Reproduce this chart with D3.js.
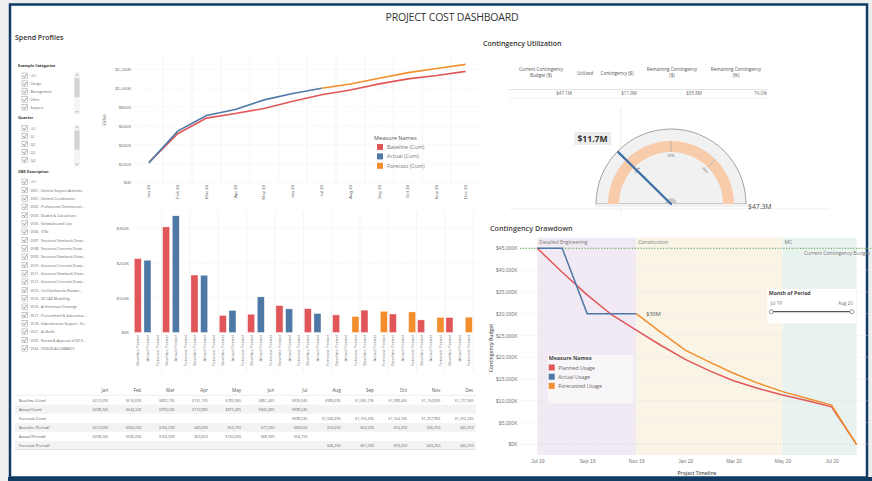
<!DOCTYPE html>
<html>
<head>
<meta charset="utf-8">
<script src="https://cdn.jsdelivr.net/npm/d3@7"></script>
<style>
  body { margin: 0; background: #fff; }
  svg { display: block; font-family: "Open Sans", sans-serif; }
</style>
</head>
<body>
<svg id="dash" width="872" height="481"></svg>
<script>
var svg = d3.select('#dash');

// ---------- data ----------
var months = ['Jan','Feb','Mar','Apr','May','Jun','Jul','Aug','Sep','Oct','Nov','Dec'];
var monthTicks = ['Jan 19','Feb 19','Mar 19','Apr 19','May 19','Jun 19','Jul 19','Aug 19','Sep 19','Oct 19','Nov 19','Dec 19'];

var baselineCum = [212695, 516695, 682195, 731195, 783945, 861445, 930045, 980695, 1045195, 1098445, 1134695, 1177945];
var actualCum = [208245, 544245, 709245, 772895, 875495, 943495, 998245, null, null, null, null, null];
var forecastCum = [null, null, null, null, null, null, 998245, 1044495, 1105495, 1164745, 1207995, 1252245];

var baselinePeriod = [212695, 304000, 165500, 49000, 52750, 77500, 68600, 50650, 64500, 53250, 36250, 43250];
var actualPeriod = [208245, 336000, 165000, 63650, 102600, 68000, 54750, null, null, null, null, null];
var forecastPeriod = [null, null, null, null, null, null, null, 46250, 61000, 59250, 43250, 44250];

var exampleCategories = ['(All)', 'Design', 'Management', 'Other', 'Support'];
var quarters = ['(All)', 'Q1', 'Q2', 'Q3', 'Q4'];
var obsItems = ['(All)', '0001 - General Support Activities', '0501 - General Coordination',
  '0502 - Professional Dimensional...', '0503 - Studies & Calculations', '0505 - Schedules and Lists',
  '0506 - VTSs', '0507 - Structural Steelwork Draw...', '0508 - Structural Concrete Drawi...',
  '0509 - Structural Steelwork Draw...', '0510 - Structural Concrete Drawi...', '0511 - Structural Steelwork Draw...',
  '0512 - Structural Concrete Drawi...', '0513 - Civil Earthworks Roadan...', '0514 - 3D CAD Modelling',
  '0516 - Architectural Drawings', '0517 - Procurement & Subcontrac...', '0518 - Subcontractor Support - Fa...',
  '0521 - As Builts', '0525 - Review & Approval of 3D S...', '0554 - DESIGN ALLOWANCE'];

var contHeaders = [['Current Contingency', 'Budget ($)'], ['Utilized'], ['Contingency ($)'],
  ['Remaining Contingency', '($)'], ['Remaining Contingency', '(%)']];
var contValues = ['$47.1M', '', '$11.9M', '$35.8M', '76.0%'];

var gaugeBudget = 47.3;   // $M
var gaugeUsed = 11.7;     // $M
var gaugeTicks = [0.25, 0.5, 0.75];

var drawMonths = ['2019-07','2019-08','2019-09','2019-10','2019-11','2019-12','2020-01',
  '2020-02','2020-03','2020-04','2020-05','2020-06','2020-07','2020-08'];
var plannedUsage = [45000, 39500, 34300, 29800, 26200, 22800, 19500, 16800, 14600, 12800, 11300, 10000, 8600, 0];
var actualUsage = [45000, 45000, 30000, 30000, 30000, null, null, null, null, null, null, null, null, null];
var forecastUsage = [null, null, null, null, 30000, 25800, 21600, 18800, 16300, 14000, 12100, 10500, 9000, 0];
var phases = [
  {name: 'Detailed Engineering', start: '2019-07', end: '2019-11', color: '#f1e9f3'},
  {name: 'Construction', start: '2019-11', end: '2020-05', color: '#faf4e7'},
  {name: 'MC', start: '2020-05', end: '2020-08', color: '#e8f2ef'}
];
var contingencyBudget = 45000;

var red = '#e15759', blue = '#4e79a7', orange = '#f28e2b';
var kFmt = function(d) { return '$' + d3.format(',')(d / 1000) + 'K'; };
var dollar = d3.format('$,');

// ---------- frame ----------
svg.append('rect').attr('width', 872).attr('height', 481).attr('fill', '#eceeef');
svg.append('rect')
    .attr('x', 10).attr('y', 4.5).attr('width', 857).attr('height', 473)
    .attr('fill', '#fff').attr('stroke', '#113b63').attr('stroke-width', 2.5);
svg.append('rect').attr('x', 8).attr('y', 477).attr('width', 864).attr('height', 4).attr('fill', '#113b63');

svg.append('text').attr('x', 452).attr('y', 21).attr('text-anchor', 'middle')
    .attr('font-size', 10.5).attr('fill', '#333').attr('letter-spacing', -0.2)
    .text('PROJECT COST DASHBOARD');
svg.append('text').attr('x', 15).attr('y', 40).attr('font-size', 7).attr('font-weight', 600)
    .attr('fill', '#333').text('Spend Profiles');
svg.append('text').attr('x', 483).attr('y', 46).attr('font-size', 7).attr('font-weight', 600)
    .attr('fill', '#333').text('Contingency Utilization');

// ---------- filter lists ----------
function checkList(title, items, y0, step, scroll) {
    var g = svg.append('g');
    g.append('text').attr('x', 18).attr('y', y0).attr('font-size', 3.8).attr('font-weight', 700)
        .attr('fill', '#333').text(title);
    var it = g.selectAll('g.item').data(items).enter().append('g')
        .attr('transform', function(d, i) { return 'translate(22,' + (y0 + 9.5 + i * step) + ')'; });
    it.append('rect').attr('x', 0).attr('y', -3).attr('width', 5.5).attr('height', 5.5)
        .attr('fill', '#fff').attr('stroke', '#999').attr('stroke-width', 0.5);
    it.append('path').attr('d', 'M1.2,-0.3 L2.5,1.4 L4.6,-2').attr('fill', 'none')
        .attr('stroke', '#555').attr('stroke-width', 0.6);
    it.append('text').attr('x', 8.5).attr('y', 1.4).attr('font-size', 3.4)
        .attr('fill', function(d, i) { return i === 0 ? '#aaa' : '#666'; }).text(function(d) { return d; });
    if (scroll) {
        var sy = y0 + 5.5, sh = items.length * step + 3;
        g.append('rect').attr('x', 74).attr('y', sy).attr('width', 6).attr('height', sh).attr('fill', '#f4f4f4');
        g.append('rect').attr('x', 74.5).attr('y', sy + 6).attr('width', 5).attr('height', sh * 0.45).attr('fill', '#d4d4d4');
        g.append('path').attr('d', 'M75.5,' + (sy + 3.5) + ' l1.5,-1.5 l1.5,1.5').attr('fill', 'none').attr('stroke', '#666').attr('stroke-width', 0.5);
        g.append('path').attr('d', 'M75.5,' + (sy + sh - 3.5) + ' l1.5,1.5 l1.5,-1.5').attr('fill', 'none').attr('stroke', '#666').attr('stroke-width', 0.5);
    }
}
checkList('Example Categories', exampleCategories, 66.5, 7.9, true);
checkList('Quarter', quarters, 119, 7.9, true);
checkList('OBS Description', obsItems, 172.5, 8.33, false);

// ---------- cumulative line chart ----------
var lx = d3.scaleBand().domain(monthTicks).range([134.5, 480]);
var ly = d3.scaleLinear().domain([0, 1330000]).range([182.5, 57]);
var lineG = svg.append('g');

lineG.selectAll('line.vg').data(d3.range(1, 12)).enter().append('line')
    .attr('x1', function(i) { return 134.5 + i * lx.step(); })
    .attr('x2', function(i) { return 134.5 + i * lx.step(); })
    .attr('y1', 57).attr('y2', 183).attr('stroke', '#ededed').attr('stroke-width', 0.6);
lineG.selectAll('line.hg').data(d3.range(0, 1200001, 200000)).enter().append('line')
    .attr('x1', 134.5).attr('x2', 480).attr('y1', ly).attr('y2', ly)
    .attr('stroke', '#ececec').attr('stroke-width', 0.6).attr('stroke-dasharray', '1.5,0.8');

var lyAxis = lineG.append('g').attr('transform', 'translate(134.5,0)')
    .call(d3.axisLeft(ly).tickValues(d3.range(0, 1200001, 200000)).tickFormat(kFmt).tickSize(0).tickPadding(3));
lyAxis.select('.domain').remove();
lyAxis.selectAll('text').attr('font-size', 4.4).attr('fill', '#777');

var lxAxis = lineG.append('g').attr('transform', 'translate(0,183)')
    .call(d3.axisBottom(lx).tickSize(0));
lxAxis.select('.domain').remove();
lxAxis.selectAll('text').attr('font-size', 4.4).attr('fill', '#666')
    .attr('transform', 'rotate(-90)').attr('text-anchor', 'end')
    .attr('x', -2).attr('y', 0).attr('dy', '0.32em');

lineG.append('text').attr('transform', 'translate(106,120) rotate(-90)').attr('text-anchor', 'middle')
    .attr('font-size', 4.4).attr('fill', '#666').text('Value');

var cumLine = d3.line()
    .defined(function(d) { return d != null; })
    .x(function(d, i) { return lx(monthTicks[i]) + lx.bandwidth() / 2; })
    .y(function(d) { return ly(d); });
[[baselineCum, red], [forecastCum, orange], [actualCum, blue]].forEach(function(s) {
    lineG.append('path').datum(s[0]).attr('d', cumLine)
        .attr('fill', 'none').attr('stroke', s[1]).attr('stroke-width', 1.6);
});

var lLegend = lineG.append('g').attr('transform', 'translate(374,140)');
lLegend.append('text').attr('x', 0).attr('y', 0).attr('font-size', 5.6).attr('fill', '#555').text('Measure Names');
lLegend.selectAll('g').data([['Baseline (Cum)', red], ['Actual (Cum)', blue], ['Forecast (Cum)', orange]])
    .enter().append('g')
    .attr('transform', function(d, i) { return 'translate(3,' + (4 + i * 9.4) + ')'; })
    .each(function(d) {
        d3.select(this).append('rect').attr('width', 6).attr('height', 6).attr('fill', d[1]);
        d3.select(this).append('text').attr('x', 10).attr('y', 4.8).attr('font-size', 5.4)
            .attr('fill', '#777').text(d[0]);
    });

// ---------- period bar chart ----------
var barKeys = ['Baseline Period', 'Actual Period', 'Forecast Period'];
var periodSeries = [baselinePeriod, actualPeriod, forecastPeriod];
var barColors = [red, blue, orange];
var bx0 = d3.scaleBand().domain(months).range([133.3, 473.3]);
var bx1 = d3.scaleBand().domain(barKeys).range([0, bx0.bandwidth()]).paddingInner(0.27).paddingOuter(0.1);
var by = d3.scaleLinear().domain([0, 347000]).range([332.5, 212]);
var barG = svg.append('g');

barG.selectAll('line.vg').data(d3.range(1, 13)).enter().append('line')
    .attr('x1', function(i) { return 133.3 + i * bx0.step(); })
    .attr('x2', function(i) { return 133.3 + i * bx0.step(); })
    .attr('y1', 211).attr('y2', 372).attr('stroke', '#ededed').attr('stroke-width', 0.6);
barG.selectAll('line.hg').data([100000, 200000, 300000]).enter().append('line')
    .attr('x1', 133.3).attr('x2', 478).attr('y1', by).attr('y2', by)
    .attr('stroke', '#ececec').attr('stroke-width', 0.6).attr('stroke-dasharray', '1.5,0.8');

var byAxis = barG.append('g').attr('transform', 'translate(133.3,0)')
    .call(d3.axisLeft(by).tickValues([0, 100000, 200000, 300000]).tickFormat(kFmt).tickSize(0).tickPadding(4));
byAxis.select('.domain').remove();
byAxis.selectAll('text').attr('font-size', 4.4).attr('fill', '#777');

var monthG = barG.selectAll('g.month').data(months).enter().append('g')
    .attr('transform', function(m) { return 'translate(' + bx0(m) + ',0)'; });
monthG.each(function(m, mi) {
    var g = d3.select(this);
    barKeys.forEach(function(k, ki) {
        var v = periodSeries[ki][mi];
        if (v != null) {
            g.append('rect').attr('x', bx1(k)).attr('width', bx1.bandwidth())
                .attr('y', by(v)).attr('height', by(0) - by(v))
                .attr('fill', barColors[ki]).attr('stroke', '#fff').attr('stroke-width', 0.4);
        }
        g.append('text')
            .attr('transform', 'translate(' + (bx1(k) + bx1.bandwidth() / 2) + ',335) rotate(-90)')
            .attr('text-anchor', 'end').attr('dy', '0.32em')
            .attr('font-size', 4.3).attr('fill', '#777').text(k);
    });
});

// ---------- monthly table ----------
var tableRows = [['Baseline (Cum)', baselineCum], ['Actual (Cum)', actualCum], ['Forecast (Cum)', forecastCum],
    ['Baseline (Period)', baselinePeriod], ['Actual (Period)', actualPeriod], ['Forecast (Period)', forecastPeriod]];
var tx = d3.scaleBand().domain(months).range([75, 473.5]);
var tableG = svg.append('g');
tableG.selectAll('text.hd').data(months).enter().append('text')
    .attr('x', function(m) { return tx(m) + tx.bandwidth(); }).attr('y', 392)
    .attr('text-anchor', 'end').attr('font-size', 4.6).attr('fill', '#555').text(function(m) { return m; });
tableG.append('line').attr('x1', 15).attr('x2', 476).attr('y1', 395.3).attr('y2', 395.3)
    .attr('stroke', '#d8d8d8').attr('stroke-width', 0.6);
var rowG = tableG.selectAll('g.row').data(tableRows).enter().append('g')
    .attr('transform', function(d, i) { return 'translate(0,' + (400.2 + i * 9.05) + ')'; });
rowG.append('rect').attr('x', 15).attr('y', -4.5).attr('width', 461).attr('height', 9.05)
    .attr('fill', function(d, i) { return i % 2 ? '#f3f3f3' : '#fff'; });
rowG.append('text').attr('x', 19).attr('y', 1.4).attr('font-size', 3.9).attr('fill', '#555')
    .text(function(d) { return d[0]; });
rowG.each(function(d) {
    d3.select(this).selectAll('text.v').data(d[1]).enter().append('text')
        .attr('x', function(v, i) { return tx(months[i]) + tx.bandwidth(); }).attr('y', 1.4)
        .attr('text-anchor', 'end').attr('font-size', 3.7).attr('fill', '#666')
        .text(function(v) { return v == null ? '' : dollar(v); });
});
tableG.append('line').attr('x1', 15).attr('x2', 476).attr('y1', 449.5).attr('y2', 449.5)
    .attr('stroke', '#d8d8d8').attr('stroke-width', 0.6);

// ---------- contingency summary ----------
var contHeadX = [541, 585, 617, 672, 736];
var contValX = [572, 0, 637, 702, 767];
var contG = svg.append('g');
contHeaders.forEach(function(h, i) {
    var t = contG.append('text').attr('x', contHeadX[i]).attr('text-anchor', 'middle')
        .attr('font-size', 4.6).attr('fill', '#555');
    h.forEach(function(line, j) {
        t.append('tspan').attr('x', contHeadX[i])
            .attr('y', h.length === 1 ? 74.5 : 71 + j * 6).text(line);
    });
    if (contValues[i]) {
        contG.append('text').attr('x', contValX[i]).attr('y', 95.2).attr('text-anchor', 'end')
            .attr('font-size', 4.6).attr('fill', '#666').text(contValues[i]);
    }
});
contG.append('line').attr('x1', 509).attr('x2', 769).attr('y1', 89.5).attr('y2', 89.5)
    .attr('stroke', '#d0d0d0').attr('stroke-width', 0.6);
contG.append('line').attr('x1', 509).attr('x2', 769).attr('y1', 98.3).attr('y2', 98.3)
    .attr('stroke', '#e2e2e2').attr('stroke-width', 0.6);

// ---------- gauge ----------
var gcx = 671, gcy = 204, gR = 75;
var gAngle = d3.scaleLinear().domain([0, gaugeBudget]).range([-Math.PI / 2, Math.PI / 2]);
var gaugeG = svg.append('g');
gaugeG.append('line').attr('x1', 510).attr('x2', 830).attr('y1', 209).attr('y2', 209)
    .attr('stroke', '#e6e6e6').attr('stroke-width', 0.6);
gaugeG.append('line').attr('x1', 620.7).attr('x2', 620.7).attr('y1', 107).attr('y2', 213)
    .attr('stroke', '#dcdcdc').attr('stroke-width', 0.5);
var gArc = d3.arc().startAngle(-Math.PI / 2).endAngle(Math.PI / 2);
gaugeG.append('path').attr('transform', 'translate(' + gcx + ',' + gcy + ')')
    .attr('d', gArc({innerRadius: 0, outerRadius: gR}))
    .attr('fill', '#f1f1f1').attr('stroke', '#8c8c8c').attr('stroke-width', 0.8);
gaugeG.append('path').attr('transform', 'translate(' + gcx + ',' + gcy + ')')
    .attr('d', gArc({innerRadius: 52, outerRadius: 63}))
    .attr('fill', '#f8cbaa');
gaugeG.append('rect').attr('x', gcx - gR - 1).attr('y', gcy).attr('width', 2 * gR + 2).attr('height', 3)
    .attr('fill', '#f1f1f1');
gaugeTicks.forEach(function(f) {
    var a = gAngle(f * gaugeBudget);
    gaugeG.append('line')
        .attr('x1', gcx + 52 * Math.sin(a)).attr('y1', gcy - 52 * Math.cos(a))
        .attr('x2', gcx + 63 * Math.sin(a)).attr('y2', gcy - 63 * Math.cos(a))
        .attr('stroke', '#a8a8a8').attr('stroke-width', 0.7);
    gaugeG.append('text')
        .attr('transform', 'translate(' + (gcx + 48 * Math.sin(a)) + ',' + (gcy - 48 * Math.cos(a)) + ') rotate(' + (a * 180 / Math.PI) + ')')
        .attr('text-anchor', 'middle').attr('dy', '0.35em').attr('font-size', 3.6).attr('fill', '#666')
        .text(d3.format('.0%')(f));
});
gaugeG.append('path').attr('transform', 'translate(' + gcx + ',' + gcy + ')')
    .attr('d', gArc({innerRadius: 0, outerRadius: 6})).attr('fill', '#c9c9c9');
var na = gAngle(gaugeUsed);
gaugeG.append('line').attr('x1', gcx).attr('y1', gcy)
    .attr('x2', gcx + 74 * Math.sin(na)).attr('y2', gcy - 74 * Math.cos(na))
    .attr('stroke', '#3d6ea5').attr('stroke-width', 2.2).attr('stroke-linecap', 'round');
gaugeG.append('rect').attr('x', 574).attr('y', 132).attr('width', 37).attr('height', 13).attr('fill', '#ececec');
gaugeG.append('text').attr('x', 592.5).attr('y', 141.8).attr('text-anchor', 'middle')
    .attr('font-size', 8.6).attr('font-weight', 700).attr('fill', '#333').text('$' + gaugeUsed + 'M');
gaugeG.append('text').attr('x', 748).attr('y', 208.5)
    .attr('font-size', 6.8).attr('fill', '#444').text('$' + gaugeBudget + 'M');

// ---------- contingency drawdown ----------
var parseM = d3.timeParse('%Y-%m');
var dDates = drawMonths.map(parseM);
var dx = d3.scaleTime().domain([dDates[0], dDates[dDates.length - 1]]).range([537.3, 856.5]);
var dy = d3.scaleLinear().domain([0, 45000]).range([444.3, 248.3]);
var dTop = 237.7, dBot = 455;
var ddG = svg.append('g');

ddG.append('text').attr('x', 490).attr('y', 231).attr('font-size', 7.2).attr('font-weight', 600)
    .attr('fill', '#444').text('Contingency Drawdown');

ddG.selectAll('rect.phase').data(phases).enter().append('rect')
    .attr('x', function(d) { return dx(parseM(d.start)); })
    .attr('width', function(d) { return dx(parseM(d.end)) - dx(parseM(d.start)); })
    .attr('y', dTop).attr('height', dBot - dTop).attr('fill', function(d) { return d.color; });
ddG.selectAll('text.phase').data(phases).enter().append('text')
    .attr('x', function(d) { return dx(parseM(d.start)) + 2; }).attr('y', dTop + 6)
    .attr('font-size', 5).attr('fill', '#777').text(function(d) { return d.name; });

var dTicks = d3.range(0, 45001, 5000);
ddG.selectAll('line.hg').data(dTicks.slice(1)).enter().append('line')
    .attr('x1', 520).attr('x2', 868).attr('y1', dy).attr('y2', dy)
    .attr('stroke', '#e6e6e6').attr('stroke-width', 0.4).attr('stroke-opacity', 0.8);
ddG.append('line').attr('x1', 520).attr('x2', 868).attr('y1', dy(0)).attr('y2', dy(0))
    .attr('stroke', '#c8c8c8').attr('stroke-width', 0.5).attr('stroke-dasharray', '2,1.5');

var dyAxis = ddG.append('g').attr('transform', 'translate(520,0)')
    .call(d3.axisLeft(dy).tickValues(dTicks).tickFormat(function(d) { return '$' + d3.format(',')(d) + 'K'; })
        .tickSize(0).tickPadding(2.5));
dyAxis.select('.domain').remove();
dyAxis.selectAll('text').attr('font-size', 5).attr('fill', '#777');

var dxAxis = ddG.append('g').attr('transform', 'translate(0,' + dBot + ')')
    .call(d3.axisBottom(dx).ticks(d3.timeMonth.every(2)).tickFormat(d3.timeFormat('%b %y')).tickSize(0).tickPadding(4));
dxAxis.select('.domain').remove();
dxAxis.selectAll('text').attr('font-size', 5).attr('fill', '#777');

ddG.append('text').attr('x', 697).attr('y', 474.5).attr('text-anchor', 'middle')
    .attr('font-size', 5).attr('font-weight', 600).attr('fill', '#555').text('Project Timeline');
ddG.append('text').attr('transform', 'translate(492.5,348) rotate(-90)').attr('text-anchor', 'middle')
    .attr('font-size', 5).attr('font-weight', 600).attr('fill', '#555').text('Contingency Budget');

// budget reference
ddG.append('line').attr('x1', 520).attr('x2', 872).attr('y1', dy(contingencyBudget)).attr('y2', dy(contingencyBudget))
    .attr('stroke', '#59a14f').attr('stroke-width', 1).attr('stroke-dasharray', '1.2,1.6');
ddG.append('text').attr('x', 870).attr('y', dy(contingencyBudget) + 6.5).attr('text-anchor', 'end')
    .attr('font-size', 5).attr('fill', '#777').text('Current Contingency Budget');

var usageLine = d3.line()
    .defined(function(d) { return d != null; })
    .x(function(d, i) { return dx(dDates[i]); })
    .y(function(d) { return dy(d); });
[[plannedUsage, red], [forecastUsage, orange], [actualUsage, blue]].forEach(function(s) {
    ddG.append('path').datum(s[0]).attr('d', usageLine)
        .attr('fill', 'none').attr('stroke', s[1]).attr('stroke-width', 1.5);
});
ddG.append('text').attr('x', dx(dDates[4]) + 10).attr('y', dy(actualUsage[4])).attr('dy', '0.35em')
    .attr('font-size', 5.6).attr('fill', '#555').text('$' + actualUsage[4] / 1000 + 'M');

// legend box
var dLeg = ddG.append('g').attr('transform', 'translate(547.7,355)');
dLeg.append('rect').attr('width', 85.6).attr('height', 48.3).attr('fill', '#fff').attr('fill-opacity', 0.6);
dLeg.append('text').attr('x', 1).attr('y', 5).attr('font-size', 5.3).attr('font-weight', 700)
    .attr('fill', '#444').text('Measure Names');
dLeg.selectAll('g').data([['Planned Usage', red], ['Actual Usage', blue], ['Forecasted Usage', orange]])
    .enter().append('g')
    .attr('transform', function(d, i) { return 'translate(1,' + (9.5 + i * 9.2) + ')'; })
    .each(function(d) {
        d3.select(this).append('rect').attr('width', 6).attr('height', 6).attr('fill', d[1]);
        d3.select(this).append('text').attr('x', 9.5).attr('y', 5).attr('font-size', 5.3)
            .attr('fill', '#666').text(d[0]);
    });

// month slider
var sl = ddG.append('g').attr('transform', 'translate(767.3,289)');
sl.append('rect').attr('width', 88.7).attr('height', 34.3).attr('fill', '#fff');
sl.append('text').attr('x', 1.5).attr('y', 6).attr('font-size', 5.2).attr('font-weight', 700)
    .attr('fill', '#444').text('Month of Period');
sl.append('text').attr('x', 3).attr('y', 15.5).attr('font-size', 4.6).attr('fill', '#777')
    .text(d3.timeFormat('%b %y')(dDates[0]));
sl.append('text').attr('x', 85.5).attr('y', 15.5).attr('text-anchor', 'end').attr('font-size', 4.6)
    .attr('fill', '#777').text(d3.timeFormat('%b %y')(dDates[dDates.length - 1]));
sl.append('line').attr('x1', 4).attr('x2', 84.5).attr('y1', 22.7).attr('y2', 22.7)
    .attr('stroke', '#555').attr('stroke-width', 1.3);
[4, 84.5].forEach(function(cx) {
    sl.append('circle').attr('cx', cx).attr('cy', 22.7).attr('r', 2)
        .attr('fill', '#fff').attr('stroke', '#555').attr('stroke-width', 0.6);
});
</script>
</body>
</html>
